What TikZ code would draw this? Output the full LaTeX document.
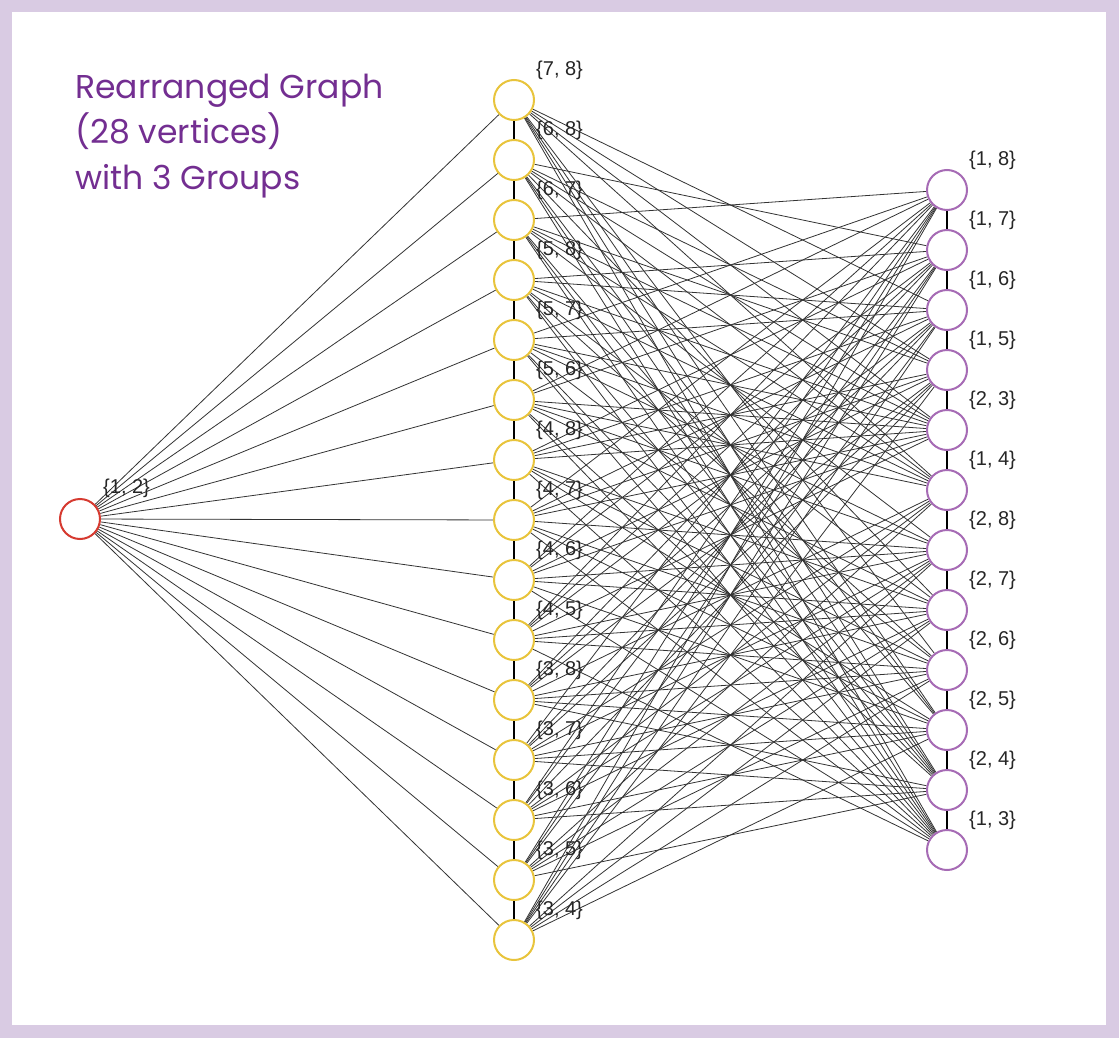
\documentclass[tikz,border=0pt]{standalone}
\usepackage{fontspec}
\setmainfont{Liberation Sans}
\newfontfamily\titlefont{Poppins}
\usetikzlibrary{backgrounds}
\definecolor{framelilac}{RGB}{217,203,227}
\definecolor{titlepurple}{RGB}{115,46,145}
\definecolor{ringgold}{RGB}{232,196,60}
\definecolor{ringred}{RGB}{214,58,48}
\definecolor{ringpurple}{RGB}{166,107,181}
\tikzset{
  vertex/.style={circle, draw, fill=white, line width=2pt, minimum size=40pt, inner sep=0pt},
  lbl/.style={anchor=west, inner sep=0pt, text=black!85, font=\fontsize{20}{22}\selectfont},
  title/.style={anchor=base west, inner sep=0pt, text=titlepurple, font=\titlefont\fontsize{33}{36}\selectfont},
  link/.style={black!80, line width=0.8pt},
  midcol/.style={black, line width=2.4pt},
  rightcol/.style={black, line width=1.1pt},
}
\begin{document}
\begin{tikzpicture}[x=1pt,y=-1pt]
\begin{scope}[on background layer]
\fill[framelilac] (0,0) rectangle (1119,1038);
\fill[white] (12,12) rectangle (1106,1025);
\end{scope}
% title
\node[title] (t1) at (75,99) {Rearranged Graph};
\node[title] (t2) at (75,144) {(28 vertices)};
\node[title] (t3) at (75,189) {with 3 Groups};
% vertices
\node[vertex, draw=ringred] (v12) at (80,519) {};
\node[lbl] (l12) at (103,488) {\{1, 2\}};
\foreach \a/\b [count=\i from 0] in {7/8,6/8,6/7,5/8,5/7,5/6,4/8,4/7,4/6,4/5,3/8,3/7,3/6,3/5,3/4}{
  \node[vertex, draw=ringgold] (v\a\b) at (514,100+60*\i) {};
  \node[lbl] (l\a\b) at (536,70+60*\i) {\{\a, \b\}};
}
\foreach \a/\b [count=\i from 0] in {1/8,1/7,1/6,1/5,2/3,1/4,2/8,2/7,2/6,2/5,2/4,1/3}{
  \node[vertex, draw=ringpurple] (v\a\b) at (947,190+60*\i) {};
  \node[lbl] (l\a\b) at (969,160+60*\i) {\{\a, \b\}};
}
% edges (disjoint pairs)
\begin{scope}[on background layer]
\foreach \a/\b in {7/8,6/8,6/7,5/8,5/7,5/6,4/8,4/7,4/6,4/5,3/8,3/7,3/6,3/5,3/4}{
  \draw[link] (v12) -- (v\a\b);
  \foreach \c in {3,...,8}{
    \pgfmathtruncatemacro\clash{(\c==\a)||(\c==\b)}
    \ifnum\clash=0 \draw[link] (v\a\b) -- (v1\c) (v\a\b) -- (v2\c);\fi
  }
  \foreach \c/\d in {7/8,6/8,6/7,5/8,5/7,5/6,4/8,4/7,4/6,4/5,3/8,3/7,3/6,3/5,3/4}{
    \pgfmathtruncatemacro\clash{(\a==\c)||(\a==\d)||(\b==\c)||(\b==\d)||(\a\b<\c\d)}
    \ifnum\clash=0 \draw[midcol] (v\a\b) -- (v\c\d);\fi
  }
}
\foreach \c in {3,...,8}
  \foreach \d in {3,...,8}{
    \ifnum\c=\d\else \draw[rightcol] (v1\c) -- (v2\d);\fi
  }
\end{scope}
\end{tikzpicture}
\end{document}
